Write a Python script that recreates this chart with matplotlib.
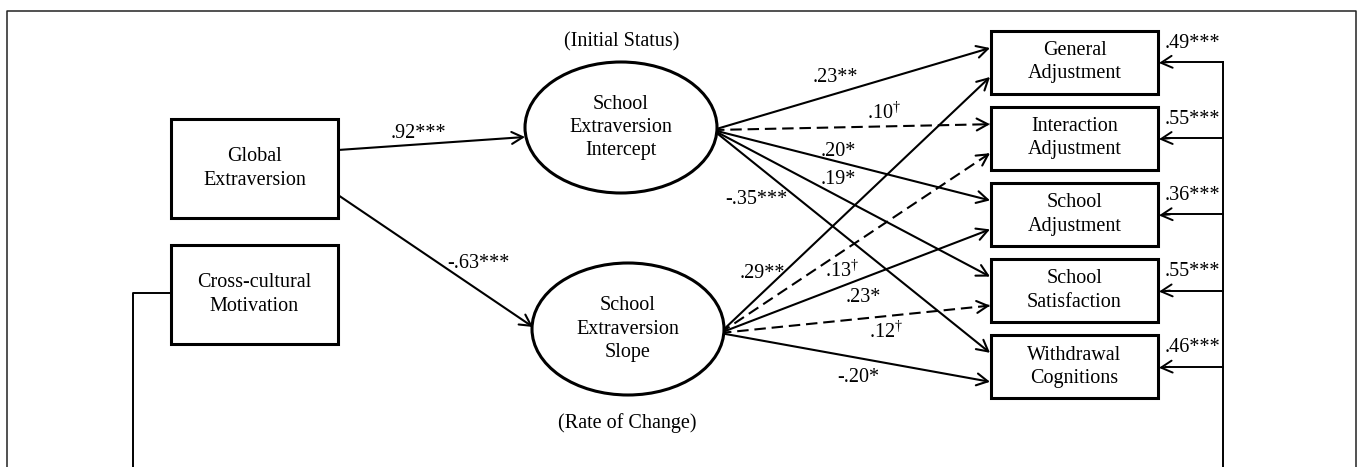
# Path diagram: global extraversion -> school extraversion growth -> adjustment outcomes

import matplotlib.pyplot as plt
from matplotlib.patches import Rectangle, Ellipse, FancyArrowPatch

plt.rcParams["font.family"] = ["Liberation Serif", "DejaVu Serif"]
plt.rcParams["mathtext.default"] = "regular"

# ── data ────────────────────────────────────────────────────────────────────
outcomes = ["General\nAdjustment", "Interaction\nAdjustment", "School\nAdjustment",
            "School\nSatisfaction", "Withdrawal\nCognitions"]
global_coefs = [".92***", "-.63***"]               # -> intercept, -> slope
intercept_coefs = [".23**", ".10$^†$", ".20*", ".19*", "-.35***"]
intercept_dashed = [False, True, False, False, False]
slope_coefs = [".29**", ".13$^†$", ".23*", ".12$^†$", "-.20*"]
slope_dashed = [False, True, False, True, False]
motivation_coefs = [".49***", ".55***", ".36***", ".55***", ".46***"]

# ── layout (pixel coords, y down) ───────────────────────────────────────────
W, H = 1358, 467
FS = 14.5
LSP = 1.31
LW_BOX = 2.2
LW_ARR = 1.5
HEAD = "->,head_length=8,head_width=4.3"

ge_box = (171, 119, 167, 99)        # x, y, w, h
ccm_box = (171, 245, 167, 99)
icpt = (621, 127.5, 192, 131)       # cx, cy, w, h
slope = (628, 329, 192, 132)
out_x, out_w, out_h = 991, 167, 63
out_y0, out_dy = 62, 76.2
fb_x = 1223
loop_x = 133

icpt_lbl_pos = [(835, 78), (884, 113), (838, 152), (838, 180), (756, 200)]
slope_lbl_pos = [(762, 273), (842, 271), (863, 298), (886, 332), (858, 377)]
global_lbl_pos = [(418, 134), (478, 263)]

fig = plt.figure(figsize=(W / 100, H / 100), dpi=100)
ax = fig.add_axes([0, 0, 1, 1])
ax.set_xlim(0, W)
ax.set_ylim(H, 0)
ax.axis("off")


def arrow(x0, y0, x1, y1, dashed=False, lw=LW_ARR):
    if dashed:
        ax.plot([x0, x1], [y0, y1], color="black", lw=lw, dashes=(5.5, 2.8),
                solid_capstyle="butt", zorder=2)
        # solid head on a short final segment
        dx, dy = x1 - x0, y1 - y0
        d = (dx ** 2 + dy ** 2) ** 0.5
        x0, y0 = x1 - dx / d * 6, y1 - dy / d * 6
    ax.add_patch(FancyArrowPatch((x0, y0), (x1, y1), arrowstyle=HEAD,
                                 mutation_scale=1, lw=lw, color="black",
                                 shrinkA=0, shrinkB=0, zorder=2))


def box(x, y, w, h, label):
    ax.add_patch(Rectangle((x, y), w, h, fill=True, facecolor="white",
                           edgecolor="black", lw=LW_BOX, zorder=3))
    ax.text(x + w / 2, y + h / 2, label, ha="center", va="center",
            fontsize=FS, linespacing=LSP, zorder=4)


def ellipse(cx, cy, w, h, label):
    ax.add_patch(Ellipse((cx, cy), w, h, facecolor="white", edgecolor="black",
                         lw=LW_BOX, zorder=3))
    ax.text(cx, cy, label, ha="center", va="center", fontsize=FS,
            linespacing=LSP, zorder=4)


# outer frame (bottom runs off the figure)
ax.plot([7, 7, 1356, 1356], [H + 5, 11, 11, H + 5], color="#222222", lw=1.1,
        clip_on=False)

# nodes
box(*ge_box, "Global\nExtraversion")
box(*ccm_box, "Cross-cultural\nMotivation")
ellipse(*icpt, "School\nExtraversion\nIntercept")
ellipse(*slope, "School\nExtraversion\nSlope")
ax.text(icpt[0] + 1, 42, "(Initial Status)", ha="center", va="center", fontsize=FS)
ax.text(slope[0] - 1, 423, "(Rate of Change)", ha="center", va="center", fontsize=FS)

out_cy = [out_y0 + i * out_dy for i in range(len(outcomes))]
for cy, name in zip(out_cy, outcomes):
    box(out_x, cy - out_h / 2, out_w, out_h, name)

# global extraversion -> growth factors
ge_r = ge_box[0] + ge_box[2]
arrow(ge_r, 150, icpt[0] - icpt[2] / 2, 137)
arrow(ge_r, 195, slope[0] - slope[2] / 2 + 1, 327)
for (lx, ly), c in zip(global_lbl_pos, global_coefs):
    ax.text(lx, ly, c, ha="center", va="center", fontsize=FS, zorder=5)

# growth factors -> outcomes
i_src = (icpt[0] + icpt[2] / 2 - 4, 130)
s_src = (slope[0] + slope[2] / 2 - 4, 333)
for cy, c, dsh, pos in zip(out_cy, intercept_coefs, intercept_dashed, icpt_lbl_pos):
    arrow(i_src[0], i_src[1], out_x - 1, cy - 14, dashed=dsh)
    ax.text(pos[0], pos[1], c, ha="center", va="center", fontsize=FS, zorder=5)
for cy, c, dsh, pos in zip(out_cy, slope_coefs, slope_dashed, slope_lbl_pos):
    arrow(s_src[0], s_src[1], out_x - 1, cy + 15, dashed=dsh)
    ax.text(pos[0], pos[1], c, ha="center", va="center", fontsize=FS, zorder=5)

# cross-cultural motivation loop -> outcomes
ccm_y = 293
ax.plot([ccm_box[0], loop_x, loop_x], [ccm_y, ccm_y, H + 5], color="black",
        lw=1.4, clip_on=False, zorder=1)
ax.plot([fb_x, fb_x], [out_cy[0], H + 5], color="black", lw=1.4,
        clip_on=False, zorder=1)
for cy, c in zip(out_cy, motivation_coefs):
    ax.plot([fb_x, out_x + out_w + 8], [cy, cy], color="black", lw=1.4, zorder=1)
    arrow(out_x + out_w + 12, cy, out_x + out_w + 1, cy + 1, lw=1.4)
    ax.text(out_x + out_w + 7, cy - 19, c, ha="left", va="center",
            fontsize=FS, zorder=5)

fig.savefig("out.png", dpi=100, facecolor="white")
